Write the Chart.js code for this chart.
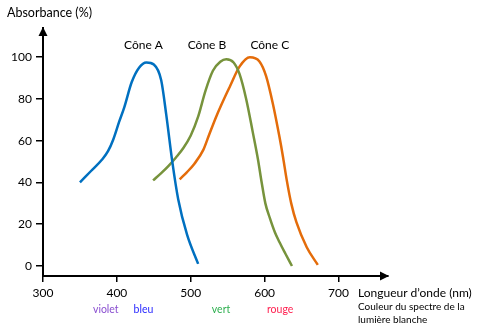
<!DOCTYPE html>
<html>
<head>
<meta charset="utf-8">
<script src="https://cdn.jsdelivr.net/npm/chart.js@4.4.1/dist/chart.umd.min.js"></script>
<style>
  html, body { margin: 0; padding: 0; background: #fff; }
  #wrap { width: 483px; height: 329px; }
</style>
</head>
<body>
<div id="wrap"><canvas id="chart" width="483" height="329"></canvas></div>
<script>
// Absorption curves of the three cone types (wavelength in nm, absorbance in %)
const coneA_x = [350, 365, 380, 388, 395, 403, 410, 420, 430, 440, 450, 460, 467, 475, 483, 495, 510];
const coneA_y = [40, 45.5, 51, 55, 60.5, 69, 76, 88, 95, 97.5, 96.5, 89, 72, 50, 32, 15, 1];

const coneB_x = [449, 460, 470, 480, 490, 500, 510, 520, 530, 540, 548, 558, 566, 575, 584, 591, 596, 601, 607, 614, 620, 628, 637];
const coneB_y = [41, 44.5, 48, 52, 56.5, 62.5, 71.5, 84, 93.5, 97.8, 99, 97.5, 92, 80, 64, 51, 40, 30, 23, 16, 11.5, 6, 0];

const coneC_x = [485, 495, 505, 517, 525, 535, 545, 553, 566, 580, 593, 602, 611, 620, 625, 630, 636, 643, 657, 672];
const coneC_y = [41.5, 45, 49, 55.6, 63, 72, 80, 86, 95.5, 100, 98, 91, 78, 62, 52, 41, 30, 21, 9, 0.5];

const coneNames = ["Cône A", "Cône B", "Cône C"];
const coneColors = ["#0070c0", "#77933c", "#e46c0a"];

const xTicks = [300, 400, 500, 600, 700];
const yTicks = [0, 20, 40, 60, 80, 100];

const spectrumNames = ["violet", "bleu", "vert", "rouge"];
const spectrumColors = ["#8a4fd0", "#2a2aff", "#2fb050", "#ff2050"];

const FONT = "Lato, 'Open Sans', sans-serif";

const toPoints = (xs, ys) => xs.map((x, i) => ({ x: x, y: ys[i] }));
const series = [toPoints(coneA_x, coneA_y), toPoints(coneB_x, coneB_y), toPoints(coneC_x, coneC_y)];

// axis arrows, curve names and the extra captions
const decorations = {
  id: "decorations",
  afterDraw(chart) {
    const { ctx, chartArea: a, scales: { x, y } } = chart;
    ctx.save();
    ctx.fillStyle = "#000";

    // arrow heads
    ctx.beginPath();
    ctx.moveTo(a.left, a.top - 1);
    ctx.lineTo(a.left - 4.5, a.top + 8);
    ctx.lineTo(a.left + 4.5, a.top + 8);
    ctx.closePath();
    ctx.fill();
    ctx.beginPath();
    ctx.moveTo(a.right + 1, a.bottom);
    ctx.lineTo(a.right - 8, a.bottom - 4.5);
    ctx.lineTo(a.right - 8, a.bottom + 4.5);
    ctx.closePath();
    ctx.fill();

    ctx.textBaseline = "middle";

    // axis titles
    ctx.font = "12.5px " + FONT;
    ctx.textAlign = "left";
    ctx.fillText("Absorbance (%)", 7, 13);
    ctx.font = "12px " + FONT;
    ctx.fillText("Longueur d\u2019onde (nm)", a.right - 30, a.bottom + 17);
    ctx.font = "10px " + FONT;
    ctx.fillText("Couleur du spectre de la", a.right - 30, a.bottom + 31);
    ctx.fillText("lumière blanche", a.right - 30, a.bottom + 44);

    // curve names above each peak
    const namesAt = [436, 522, 607];
    ctx.font = "12px " + FONT;
    ctx.textAlign = "center";
    coneNames.forEach((n, i) => {
      ctx.fillText(n, x.getPixelForValue(namesAt[i]), y.getPixelForValue(106));
    });

    // colours of the visible spectrum under the axis
    const colorsAt = [385, 436, 541, 621];
    ctx.font = "10.5px " + FONT;
    spectrumNames.forEach((n, i) => {
      ctx.fillStyle = spectrumColors[i];
      ctx.fillText(n, x.getPixelForValue(colorsAt[i]), a.bottom + 34);
    });
    ctx.restore();
  }
};

new Chart(document.getElementById("chart"), {
  type: "line",
  data: {
    datasets: series.map((pts, i) => ({
      label: coneNames[i],
      data: pts,
      borderColor: coneColors[i],
      borderWidth: 2.5,
      pointRadius: 0,
      fill: false,
      cubicInterpolationMode: "monotone"
    }))
  },
  options: {
    responsive: false,
    animation: false,
    events: [],
    layout: { padding: { left: 0, top: 28, right: 95, bottom: 0 } },
    plugins: { legend: { display: false }, tooltip: { enabled: false } },
    scales: {
      x: {
        type: "linear",
        min: 300,
        max: 767,
        afterBuildTicks: (s) => { s.ticks = xTicks.map(v => ({ value: v })); },
        afterFit: (s) => { s.height = 53; },
        border: { display: true, color: "#000", width: 2 },
        grid: { drawOnChartArea: false, drawTicks: true, tickLength: 6, color: "#000", lineWidth: 1.5 },
        ticks: { color: "#000", padding: 4, font: { family: FONT, size: 12 } }
      },
      y: {
        type: "linear",
        min: -4.8,
        max: 114,
        afterBuildTicks: (s) => { s.ticks = yTicks.map(v => ({ value: v })); },
        afterFit: (s) => { s.width = 43; },
        border: { display: true, color: "#000", width: 2 },
        grid: { drawOnChartArea: false, drawTicks: true, tickLength: 7, color: "#000", lineWidth: 1.5 },
        ticks: { color: "#000", padding: 4, font: { family: FONT, size: 12 } }
      }
    }
  },
  plugins: [decorations]
});
</script>
</body>
</html>
